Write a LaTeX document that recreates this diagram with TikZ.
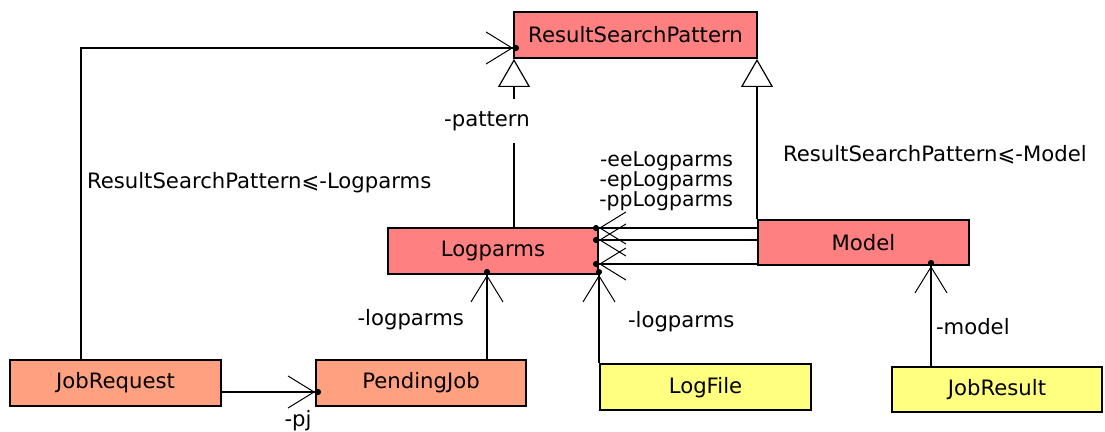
\documentclass[tikz,border=0pt]{standalone}
\usepackage{fontspec}
\setmainfont{DejaVu Sans}
\usetikzlibrary{arrows.meta}

\definecolor{clsred}{RGB}{255,128,128}
\definecolor{clsorange}{RGB}{255,160,128}
\definecolor{clsyellow}{RGB}{255,255,128}
\newcommand{\tightlines}{\fontsize{10.2}{10}\selectfont\lineskiplimit=-20pt\relax\lineskip=0pt\relax}

\begin{document}
\begin{tikzpicture}[x=0.5pt,y=-0.5pt,line width=1pt,font=\fontsize{10.6}{11}\selectfont]
 \tikzstyle{classbox} = [draw,rectangle,minimum width=105pt,minimum height=23pt,inner sep=0]
 \tikzstyle{assoc} = [draw,-{Straight Barb[length=13pt,width=16pt,line width=0.5pt] Circle[length=3pt,sep=-3pt]}]
 \tikzstyle{gen} = [draw,-{Triangle[open,fill=white,length=14pt,width=16pt,line width=0.6pt]}]
 \tikzstyle{lbl} = [inner sep=1pt]
 \useasboundingbox (0,0) rectangle (1105,432);

 % classes
 \node[classbox,fill=clsred,minimum width=121.5pt] (rsp) at (635.5,35) {ResultSearchPattern};
 \node[classbox,fill=clsred] (logparms) at (493,251) {Logparms};
 \node[classbox,fill=clsred,minimum width=105.5pt,minimum height=22.5pt] (model) at (863.5,242.5) {Model};
 \node[classbox,fill=clsorange,minimum width=105.5pt] (jobrequest) at (115.5,383) {JobRequest};
 \node[classbox,fill=clsorange] (pendingjob) at (421,383) {PendingJob};
 \node[classbox,fill=clsyellow,minimum width=105.5pt] (logfile) at (705.5,387.5) {LogFile};
 \node[classbox,fill=clsyellow,minimum height=22.5pt] (jobresult) at (997,389.5) {JobResult};

 % generalizations
 \draw[gen] (logparms.north -| 514,0) -- (rsp.south -| 514,0);
 \node[lbl,fill=white,inner ysep=6pt] (lblpattern) at (487,121) {-pattern};
 \draw[gen] (model.north west) -- (rsp.south -| model.north west);
 \node[lbl,anchor=west] (lblmodelrsp) at (780,155) {ResultSearchPattern⩽-Model};

 % associations
 \draw[assoc] (jobrequest.north -| 81,0) |- (rsp.west |- 0,48);
 \node[lbl,anchor=west] (lbljobrsp) at (84,183) {ResultSearchPattern⩽-Logparms};

 \draw[assoc] (model.west |- 0,228) -- (logparms.east |- 0,228);
 \draw[assoc] (model.west |- 0,240) -- (logparms.east |- 0,240);
 \draw[assoc] (model.west |- 0,264) -- (logparms.east |- 0,264);
 \node[lbl,anchor=east,align=right,font=\tightlines] (lblthree) at (736,181)
  {-eeLogparms\\-epLogparms\\-ppLogparms};

 \draw[assoc] (logfile.north west) -- (logparms.south -| logfile.north west);
 \node[lbl,anchor=west] (lbllogfile) at (625,322) {-logparms};

 \draw[assoc] (pendingjob.north -| 487,0) -- (logparms.south -| 487,0);
 \node[lbl,anchor=east] (lblpending) at (467,320) {-logparms};

 \draw[assoc] (jobrequest.east |- 0,392) -- (pendingjob.west |- 0,392);
 \node[lbl] (lblpj) at (298,421) {-pj};

 \draw[assoc] (jobresult.north -| 931,0) -- (model.south -| 931,0);
 \node[lbl,anchor=west] (lblmodel) at (933,327) {-model};
\end{tikzpicture}
\end{document}
